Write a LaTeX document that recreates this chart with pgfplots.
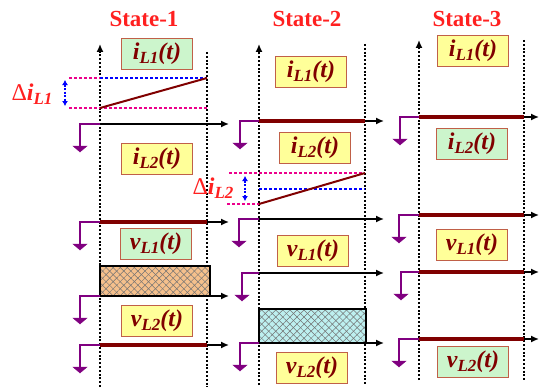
\documentclass[border=0pt]{standalone}
\usepackage{pgfplots}
\pgfplotsset{compat=1.18}
\usepackage{fontspec}
\setmainfont{Liberation Serif}
\usetikzlibrary{arrows.meta,patterns.meta}
\definecolor{brn}{HTML}{800000}
\definecolor{lgreen}{HTML}{CCF5CC}
\definecolor{lyel}{HTML}{FFFF99}
\definecolor{bord}{HTML}{C06048}
\definecolor{pur}{HTML}{800080}
\definecolor{peach}{HTML}{F5C08C}
\definecolor{lcyan}{HTML}{BDEFEF}
\definecolor{tred}{HTML}{FF2020}
\tikzset{lab/.style={draw=bord, line width=0.8pt, minimum width=71pt, minimum height=31pt, inner sep=0pt, text=brn, font=\fontsize{24}{24}\selectfont\bfseries\itshape}}
\newcommand{\sig}[2]{#1\raisebox{-0.35ex}{\fontsize{17}{17}\selectfont #2}(t)}
\newcommand{\dlt}[1]{Δ{\bfseries\itshape i\raisebox{-0.35ex}{\fontsize{17}{17}\selectfont #1}}}
\pgfplotsset{
 vdot/.style={black, line width=1.5pt, dash pattern=on 2pt off 1.8pt},
 ax/.style={black, line width=1.5pt, -{Latex[length=8pt,width=7pt]}},
 thk/.style={brn, line width=3.2pt},
 gl/.style={pur, line width=1.4pt},
 gt/.style={pur, fill=pur},
 mdash/.style={magenta, line width=1.3pt, dash pattern=on 3pt off 2pt},
 bdash/.style={blue, line width=1.3pt, dash pattern=on 3pt off 2pt},
 dbl/.style={blue, line width=1.4pt, dash pattern=on 2pt off 1.5pt, {Latex[length=5pt,width=6pt]}-{Latex[length=5pt,width=6pt]}},
 hatch/.style={draw=none, postaction={pattern={Lines[angle=45,distance=5pt,line width=0.5pt]}, pattern color=black!55}, postaction={pattern={Lines[angle=-45,distance=5pt,line width=0.5pt]}, pattern color=black!55}},
}
\begin{document}
\begin{tikzpicture}
\begin{axis}[scale only axis, width=540pt, height=387pt, xmin=0, xmax=540, ymin=0, ymax=387, y dir=reverse, hide axis, clip=false]
\addplot[draw=none] coordinates {(0,0)(540,387)};
% ---------- vertical dotted lines ----------
\addplot[vdot, -{Latex[length=8pt,width=7pt]}] coordinates {(100,387)(100,44)};
\addplot[vdot] coordinates {(207,52)(207,387)};
\addplot[vdot, -{Latex[length=8pt,width=7pt]}] coordinates {(259,385)(259,44)};
\addplot[vdot] coordinates {(365,44)(365,385)};
\addplot[vdot, -{Latex[length=8pt,width=7pt]}] coordinates {(419,380)(419,40)};
\addplot[vdot] coordinates {(524,40)(524,380)};
% ---------- State-1 ----------
\addplot[mdash] coordinates {(69,78)(100,78)};
\addplot[bdash] coordinates {(100,78)(207,78)};
\addplot[mdash] coordinates {(69,108)(207,108)};
\addplot[brn, line width=2pt] coordinates {(100,108)(207,78)};
\addplot[dbl] coordinates {(65,80)(65,106)};
\addplot[ax] coordinates {(100,124)(229,124)};
\addplot[ax] coordinates {(100,222)(229,222)};
\addplot[thk] coordinates {(100,222)(207,222)};
\addplot[fill=peach, hatch] coordinates {(100,266)(210,266)(210,296)(100,296)} -- cycle;
\addplot[black, line width=1.6pt] coordinates {(100,266)(210,266)(210,296)(100,296)} -- cycle;
\addplot[ax] coordinates {(210,296)(229,296)};
\addplot[ax] coordinates {(100,345)(229,345)};
\addplot[thk] coordinates {(100,345)(207,345)};
% grounds S1
\addplot[gl] coordinates {(100,124)(80,124)(80,146)};
\addplot[gt] coordinates {(73,146)(87,146)(80,152)} -- cycle;
\addplot[gl] coordinates {(100,222)(80,222)(80,244)};
\addplot[gt] coordinates {(73,244)(87,244)(80,250)} -- cycle;
\addplot[gl] coordinates {(100,296)(80,296)(80,318)};
\addplot[gt] coordinates {(73,318)(87,318)(80,324)} -- cycle;
\addplot[gl] coordinates {(100,345)(80,345)(80,367)};
\addplot[gt] coordinates {(73,367)(87,367)(80,373)} -- cycle;
% ---------- State-2 ----------
\addplot[ax] coordinates {(259,121)(384,121)};
\addplot[thk] coordinates {(259,121)(365,121)};
\addplot[mdash] coordinates {(229,173)(365,173)};
\addplot[bdash] coordinates {(259,189)(365,189)};
\addplot[mdash] coordinates {(227,204)(259,204)};
\addplot[brn, line width=2pt] coordinates {(259,204)(365,173)};
\addplot[dbl] coordinates {(245,176)(245,201)};
\addplot[ax] coordinates {(259,219)(384,219)};
\addplot[ax] coordinates {(259,273)(384,273)};
\addplot[fill=lcyan, hatch] coordinates {(259,309)(366,309)(366,343)(259,343)} -- cycle;
\addplot[black, line width=1.6pt] coordinates {(259,309)(366,309)(366,343)(259,343)} -- cycle;
\addplot[ax] coordinates {(366,343)(384,343)};
% grounds S2
\addplot[gl] coordinates {(259,121)(240,121)(240,143)};
\addplot[gt] coordinates {(233,143)(247,143)(240,149)} -- cycle;
\addplot[gl] coordinates {(259,219)(239,219)(239,241)};
\addplot[gt] coordinates {(232,241)(246,241)(239,247)} -- cycle;
\addplot[gl] coordinates {(259,273)(242,273)(242,295)};
\addplot[gt] coordinates {(235,295)(249,295)(242,301)} -- cycle;
\addplot[gl] coordinates {(259,343)(240,343)(240,365)};
\addplot[gt] coordinates {(233,365)(247,365)(240,371)} -- cycle;
% ---------- State-3 ----------
\addplot[ax] coordinates {(419,117)(539,117)};
\addplot[thk] coordinates {(419,117)(524,117)};
\addplot[ax] coordinates {(419,215)(539,215)};
\addplot[thk] coordinates {(419,215)(524,215)};
\addplot[ax] coordinates {(419,272)(539,272)};
\addplot[thk] coordinates {(419,272)(524,272)};
\addplot[ax] coordinates {(419,339)(539,339)};
\addplot[thk] coordinates {(419,339)(524,339)};
% grounds S3
\addplot[gl] coordinates {(419,117)(400,117)(400,139)};
\addplot[gt] coordinates {(393,139)(407,139)(400,145)} -- cycle;
\addplot[gl] coordinates {(419,215)(399,215)(399,237)};
\addplot[gt] coordinates {(392,237)(406,237)(399,243)} -- cycle;
\addplot[gl] coordinates {(419,272)(401,272)(401,294)};
\addplot[gt] coordinates {(394,294)(408,294)(401,300)} -- cycle;
\addplot[gl] coordinates {(419,339)(399,339)(399,361)};
\addplot[gt] coordinates {(392,361)(406,361)(399,367)} -- cycle;
% ---------- titles ----------
\node[text=tred, font=\fontsize{23}{23}\selectfont\bfseries] at (axis cs:144,19) {State-1};
\node[text=tred, font=\fontsize{23}{23}\selectfont\bfseries] at (axis cs:307,19) {State-2};
\node[text=tred, font=\fontsize{23}{23}\selectfont\bfseries] at (axis cs:467,19) {State-3};
\node[text=tred, font=\fontsize{24}{24}\selectfont] at (axis cs:32,94) {\dlt{L1}};
\node[text=tred, font=\fontsize{24}{24}\selectfont] at (axis cs:213,188) {\dlt{L2}};
% ---------- labels ----------
\node[lab, fill=lgreen] at (axis cs:157,54) {\sig{i}{L1}};
\node[lab, fill=lyel] at (axis cs:157,159) {\sig{i}{L2}};
\node[lab, fill=lgreen] at (axis cs:156,244) {\sig{v}{L1}};
\node[lab, fill=lyel] at (axis cs:157,321) {\sig{v}{L2}};
\node[lab, fill=lyel] at (axis cs:311,72) {\sig{i}{L1}};
\node[lab, fill=lyel] at (axis cs:315,148) {\sig{i}{L2}};
\node[lab, fill=lyel] at (axis cs:313,251) {\sig{v}{L1}};
\node[lab, fill=lyel] at (axis cs:312,368) {\sig{v}{L2}};
\node[lab, fill=lyel] at (axis cs:473,51) {\sig{i}{L1}};
\node[lab, fill=lgreen] at (axis cs:472,144) {\sig{i}{L2}};
\node[lab, fill=lyel] at (axis cs:472,245) {\sig{v}{L1}};
\node[lab, fill=lgreen] at (axis cs:473,362) {\sig{v}{L2}};
\end{axis}
\end{tikzpicture}
\end{document}
